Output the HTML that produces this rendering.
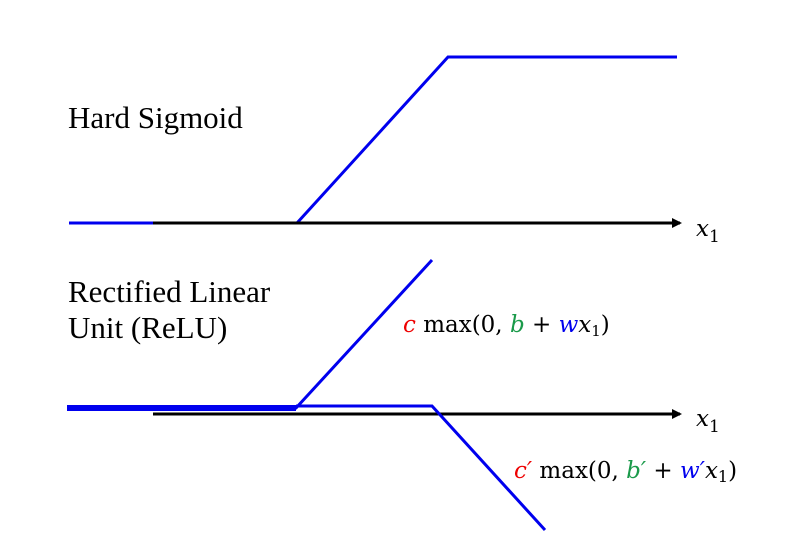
<!DOCTYPE html>
<html><head><meta charset="utf-8">
<style>
html,body{margin:0;padding:0;background:#fff;}
svg{display:block;}
.lbl{font-family:"Liberation Serif",serif;font-size:31px;fill:#000;}
.math{font-family:"DejaVu Serif","Liberation Serif",serif;font-size:23px;}
</style></head>
<body>
<svg id="chart" width="796" height="553" viewBox="0 0 796 553" xmlns="http://www.w3.org/2000/svg">
<defs>
<marker id="arr" markerWidth="10" markerHeight="10" refX="8" refY="5" orient="auto" markerUnits="userSpaceOnUse">
<path d="M0,0 L10,5 L0,10 Z" fill="#000"/>
</marker>
</defs>
<text class="lbl" x="68" y="128">Hard Sigmoid</text>
<text class="lbl" x="68" y="302">Rectified Linear</text>
<text class="lbl" x="68" y="338">Unit (ReLU)</text>
<text class="math" x="696" y="236" font-size="26" font-style="italic">x<tspan font-style="normal" font-size="17" dy="6">1</tspan></text>
<text class="math" x="696" y="426" font-size="26" font-style="italic">x<tspan font-style="normal" font-size="17" dy="6">1</tspan></text>
<text class="math" x="403" y="332"><tspan fill="#e00" font-style="italic">c</tspan> max(0, <tspan fill="#1a9a4a" font-style="italic">b</tspan> + <tspan fill="#0000ee" font-style="italic">w</tspan><tspan font-style="italic">x</tspan><tspan font-size="15" dy="4">1</tspan><tspan dy="-4">)</tspan></text>
<text class="math" x="514" y="478" font-size="24"><tspan fill="#e00" font-style="italic">c′</tspan> max(0, <tspan fill="#1a9a4a" font-style="italic">b′</tspan> + <tspan fill="#0000ee" font-style="italic">w′</tspan><tspan font-style="italic">x</tspan><tspan font-size="16" dy="4">1</tspan><tspan dy="-4">)</tspan></text>
</svg>
<script>
const axisRange = [0, 5.27];
const sigmoidX = [-0.84, 1.44, 2.95, 5.24];
const sigmoidY = [0, 0, 1.66, 1.66];
const relu1X = [-0.86, 1.43, 2.79];
const relu1Y = [0.06, 0.06, 1.54];
const relu2X = [1.43, 2.79, 3.92];
const relu2Y = [0.08, 0.08, -1.16];
const reluSumX = [-0.86, 1.43];
const reluSumY = [0.06, 0.06];

const svg = document.getElementById('chart');
const NS = 'http://www.w3.org/2000/svg';
const sx = v => 153 + v * 100;
const syTop = v => 223 - v * 100;
const syBot = v => 414 - v * 100;

function line(x1, y1, x2, y2, stroke, w, marker) {
  const l = document.createElementNS(NS, 'line');
  l.setAttribute('x1', x1); l.setAttribute('y1', y1);
  l.setAttribute('x2', x2); l.setAttribute('y2', y2);
  l.setAttribute('stroke', stroke); l.setAttribute('stroke-width', w);
  if (marker) l.setAttribute('marker-end', 'url(#arr)');
  svg.appendChild(l);
  return l;
}
function poly(xs, ys, sy, stroke, w) {
  const p = document.createElementNS(NS, 'polyline');
  p.setAttribute('points', xs.map((x, i) => sx(x) + ',' + sy(ys[i])).join(' '));
  p.setAttribute('fill', 'none');
  p.setAttribute('stroke', stroke);
  p.setAttribute('stroke-width', w);
  svg.appendChild(p);
  return p;
}

let s = poly(sigmoidX, sigmoidY, syTop, '#0000ee', 3);


let a = line(sx(axisRange[0]), syTop(0), sx(axisRange[1]), syTop(0), '#000', 3, true);



let b = line(sx(axisRange[0]), syBot(0), sx(axisRange[1]), syBot(0), '#000', 3, true);


let r1 = poly(relu1X, relu1Y, syBot, '#0000ee', 3);


let r2 = poly(relu2X, relu2Y, syBot, '#0000ee', 3);


let rs = poly(reluSumX, reluSumY, syBot, '#0000ee', 6);


</script>
</body></html>
